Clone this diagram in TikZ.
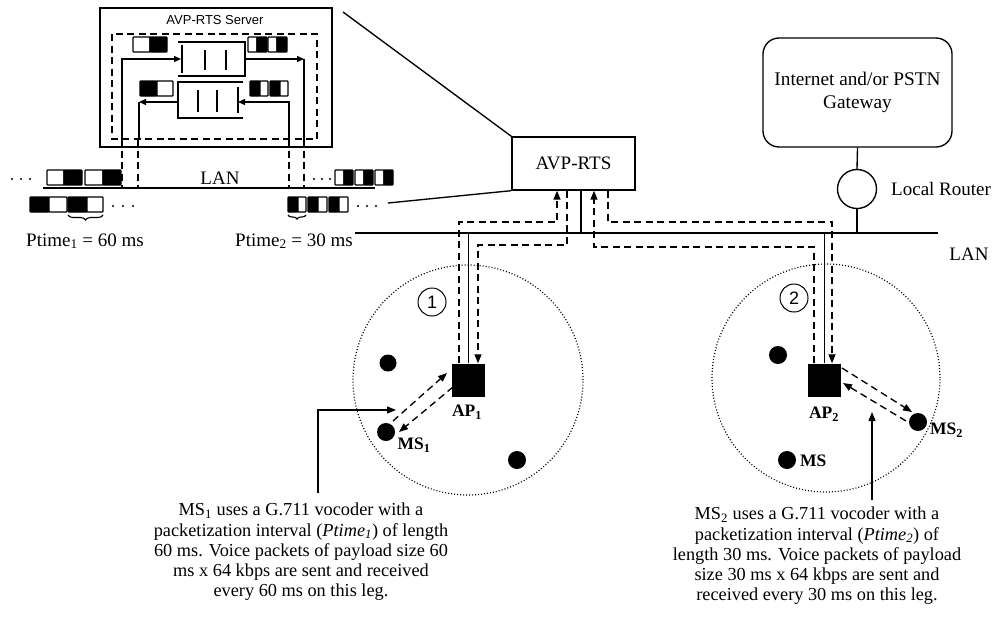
\documentclass[tikz,border=0pt]{standalone}
\usepackage{fontspec}
\setmainfont{Liberation Serif}
\newfontfamily\sansf{Liberation Sans}
\usetikzlibrary{arrows.meta,decorations.pathreplacing}
\begin{document}
\begin{tikzpicture}[x=1pt,y=-1pt,
  ln/.style={line width=1.35pt},
  dsh/.style={line width=1.35pt,dash pattern=on 7pt off 4.5pt},
  arr/.style={-{Triangle[length=9pt,width=7pt]}},
  arrs/.style={-{Triangle[length=7pt,width=6pt]}},
  pkw/.style={draw,line width=1.3pt,fill=white,rounded corners=0.8pt},
  pkb/.style={draw,line width=1.3pt,fill=black,rounded corners=0.8pt},
  msdot/.style={circle,fill=black,inner sep=0pt,minimum size=18pt},
  apbox/.style={fill=black,inner sep=0pt,minimum size=33pt},
  lbl/.style={font=\fontsize{19}{19}\selectfont,inner sep=0pt},
  blbl/.style={font=\bfseries\fontsize{17.5}{19}\selectfont,inner sep=0pt},
  txt/.style={font=\fontsize{18.3}{20.2}\selectfont,align=center,inner sep=0pt},
  cell/.style={draw,circle,dash pattern=on 1pt off 2pt,line width=1.2pt,inner sep=0pt},
  num/.style={draw,circle,line width=1pt,minimum size=28pt,inner sep=0pt,font=\sansf\fontsize{18}{18}\selectfont},
  pdot/.style={circle,fill=black,inner sep=0pt,minimum size=2.4pt},
]
\useasboundingbox (0,0) rectangle (1000,621);

% ---------------- inset: AVP-RTS Server ----------------
\node[draw,ln,minimum width=232pt,minimum height=139pt,inner sep=0pt] (srv) at (216,77.5) {};
\node[font=\sansf\fontsize{13}{13}\selectfont] (srvt) at (215,20) {AVP-RTS Server};
\draw[dsh] (112,34) rectangle (317,139);
% queues
\draw[ln] (178,42) -- (245,42) -- (245,76) -- (178,76);
\draw[ln] (182,45) -- (182,73) (205,50) -- (205,70) (226,50) -- (226,70);
\draw[ln] (243,82) -- (178,82) -- (178,118) -- (243,118);
\draw[ln] (238,87) -- (238,113) (198,90) -- (198,112) (217,90) -- (217,112);
% paths in server
\draw[ln,arrs] (122,139) |- (181,59);
\draw[ln,arrs] (245,59) -- (304,59);
\draw[ln] (304,59) -- (304,139);
\draw[ln,arrs] (289,139) |- (238,102);
\draw[ln,arrs] (178,102) -- (139,102);
\draw[ln] (139,102) -- (139,139);
\draw[dsh] (122,139) -- (122,188) (138,139) -- (138,188) (289,139) -- (289,188) (304,139) -- (304,188);
% packets inside server
\draw[pkw] (133,37) rectangle (150,52); \draw[pkb] (150,37) rectangle (167,52);
\draw[pkw] (248,37) rectangle (257,52); \draw[pkb] (257,37) rectangle (267,52);
\draw[pkw] (268,37) rectangle (277,52); \draw[pkb] (277,37) rectangle (287,52);
\draw[pkb] (140,81) rectangle (157,96); \draw[pkw] (157,81) rectangle (173,96);
\draw[pkb] (250,81) rectangle (260,96); \draw[pkw] (260,81) rectangle (268,96);
\draw[pkb] (270,81) rectangle (280,96); \draw[pkw] (280,81) rectangle (288,96);
% inset LAN
\draw[ln] (43,188) -- (375,188);
\node[lbl] (ilan) at (220,178) {LAN};
% packet rows
\node[pdot] at (12,179) {}; \node[pdot] at (21,179) {}; \node[pdot] at (30,179) {};
\draw[pkw] (47,170) rectangle (64,185); \draw[pkb] (64,170) rectangle (82,185);
\draw[pkw] (85,170) rectangle (103,185); \draw[pkb] (103,170) rectangle (121,185);
\node[pdot] at (314,179) {}; \node[pdot] at (322,179) {}; \node[pdot] at (330,179) {};
\draw[pkw] (335,170) rectangle (344,185); \draw[pkb] (344,170) rectangle (353,185);
\draw[pkw] (355,170) rectangle (364,185); \draw[pkb] (364,170) rectangle (373,185);
\draw[pkw] (375,170) rectangle (384,185); \draw[pkb] (384,170) rectangle (393,185);
\draw[pkb] (30,197) rectangle (49,212); \draw[pkw] (49,197) rectangle (67,212);
\draw[pkb] (68,197) rectangle (87,212); \draw[pkw] (87,197) rectangle (103,212);
\node[pdot] at (113,206) {}; \node[pdot] at (123,206) {}; \node[pdot] at (133,206) {};
\draw[pkb] (288,197) rectangle (298,212); \draw[pkw] (298,197) rectangle (306,212);
\draw[pkb] (308,197) rectangle (318,212); \draw[pkw] (318,197) rectangle (327,212);
\draw[pkb] (329,197) rectangle (339,212); \draw[pkw] (339,197) rectangle (348,212);
\node[pdot] at (358,206) {}; \node[pdot] at (367,206) {}; \node[pdot] at (376,206) {};
\draw[line width=1.1pt,decorate,decoration={brace,amplitude=5pt,mirror}] (68,215) -- (103,215);
\draw[line width=1.1pt,decorate,decoration={brace,amplitude=4pt,mirror}] (288,215) -- (306,215);
\node[lbl,anchor=base] (pt1) at (85,246) {Ptime\textsubscript{1} = 60 ms};
\node[lbl,anchor=base] (pt2) at (294,246) {Ptime\textsubscript{2} = 30 ms};

% ---------------- main network ----------------
\node[draw,ln,minimum width=123pt,minimum height=53pt,inner sep=0pt,font=\fontsize{19}{19}\selectfont] (avp) at (573.5,163.5) {AVP-RTS};
\coordinate (i1) at (343,12);
\coordinate (i2) at (388,203);
\draw[ln] (i1) -- (avp.north west);
\draw[ln] (i2) -- (avp.south west);

\node[draw,ln,rounded corners=16pt,minimum width=189pt,minimum height=109pt,inner sep=0pt,align=center,font=\fontsize{19.3}{23}\selectfont] (gw) at (857.5,92.5) {Internet and/or PSTN\\Gateway};
\node[draw,ln,circle,minimum size=39pt,inner sep=0pt] (rt) at (857,189) {};
\node[lbl,anchor=west] (rtl) at (891,189) {Local Router};

\coordinate (lanA) at (355,233);
\coordinate (lanB) at (938,233);
\draw[ln] (lanA) -- (lanB);
\node[lbl] (lan) at (969,254) {LAN};
\draw[ln] (gw.south) -- (rt.north);
\draw[ln] (rt.south) -- (857,233);

% cells
\node[cell,minimum size=230pt] (c1) at (468,380) {};
\node[cell,minimum size=228pt] (c2) at (826,378) {};
\node[num] (n1) at (432,302) {1};
\node[num] (n2) at (794,298) {2};

\node[apbox] (ap1) at (468.5,380) {};
\node[apbox] (ap2) at (824.5,380) {};
\node[blbl] (ap1l) at (467,412) {AP\textsubscript{1}};
\node[blbl] (ap2l) at (824,414) {AP\textsubscript{2}};

\node[msdot] (ms1) at (386,432) {};
\node[msdot,minimum size=17pt] (d1a) at (388,363) {};
\node[msdot] (d1b) at (517,460) {};
\node[msdot] (d2a) at (778,355) {};
\node[msdot] (ms) at (787,460) {};
\node[msdot] (ms2) at (918,422) {};
\node[blbl] (ms1l) at (414,445) {MS\textsubscript{1}};
\node[blbl,anchor=west] (msl) at (800,461) {MS};
\node[blbl,anchor=west] (ms2l) at (930,430) {MS\textsubscript{2}};

% AP - LAN - AVP links
\draw[ln] (ap1.north) -- (468.5,233);
\draw[ln] (ap2.north) -- (824.5,233);
\draw[ln] (avp.south -| 581,0) -- (581,233);
\draw[dsh,arr] (ap1.north -| 459,0) |- (557,222) -- (avp.south -| 557,0);
\draw[dsh,arr] (avp.south -| 567,0) |- (478,245) -- (ap1.north -| 478,0);
\draw[dsh,arr] (avp.south -| 608,0) |- (832,222) -- (ap2.north -| 832,0);
\draw[dsh,arr] (ap2.north -| 814,0) |- (594,247) -- (avp.south -| 594,0);

% AP - MS wireless legs
\coordinate (a1) at (393,421); \coordinate (a2) at (447,373);
\coordinate (b1) at (453,387); \coordinate (b2) at (399,432);
\draw[dsh,arr] (a1) -- (a2);
\draw[dsh,arr] (b1) -- (b2);
\coordinate (c1a) at (842,368); \coordinate (c1b) at (912,412);
\coordinate (d1) at (906,421); \coordinate (d2) at (843,383);
\draw[dsh,arr] (c1a) -- (c1b);
\draw[dsh,arr] (d1) -- (d2);

% call-out texts
\node[txt,anchor=north] (t1) at (301,503) {MS\textsubscript{1} uses a G.711 vocoder with a\\packetization interval (\textit{Ptime\textsubscript{1}}) of length\\60 ms. Voice packets of payload size 60\\ms x 64 kbps are sent and received\\every 60 ms on this leg.};
\node[txt,anchor=north] (t2) at (817,507) {MS\textsubscript{2} uses a G.711 vocoder with a\\packetization interval (\textit{Ptime\textsubscript{2}}) of\\length 30 ms. Voice packets of payload\\size 30 ms x 64 kbps are sent and\\received every 30 ms on this leg.};
\coordinate (k1) at (318,493);
\coordinate (k2) at (396,410);
\draw[ln,arr] (k1) |- (k2);
\coordinate (k3) at (872,500);
\coordinate (k4) at (872,412);
\draw[ln,arr] (k3) -- (k4);
\end{tikzpicture}
\end{document}
